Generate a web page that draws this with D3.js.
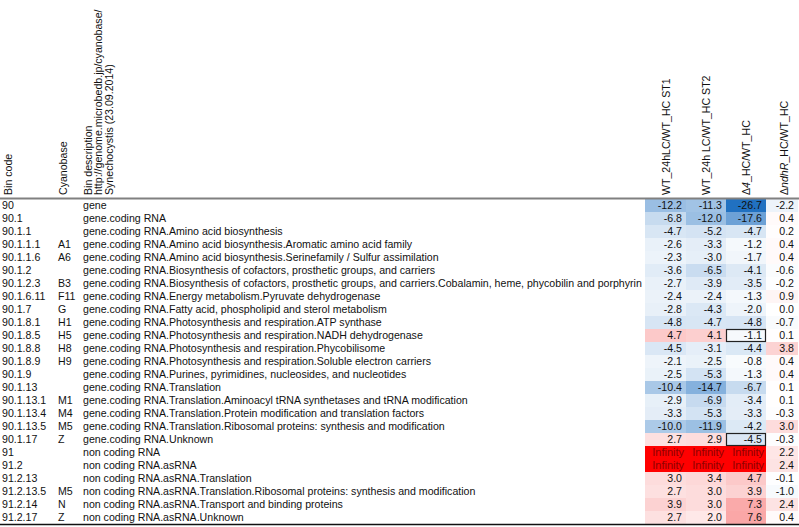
<!DOCTYPE html>
<html><head><meta charset="utf-8">
<script src="https://cdn.jsdelivr.net/npm/d3@7"></script>
<style>body{margin:0;background:#fff}svg{display:block}text{font-family:"Liberation Sans",Arial,sans-serif;font-size:10.6px}</style>
</head><body>
<svg id="c" width="799" height="527"></svg>
<script>
const binCodes = ["90","90.1","90.1.1","90.1.1.1","90.1.1.6","90.1.2","90.1.2.3","90.1.6.11","90.1.7","90.1.8.1","90.1.8.5","90.1.8.8","90.1.8.9","90.1.9","90.1.13","90.1.13.1","90.1.13.4","90.1.13.5","90.1.17","91","91.2","91.2.13","91.2.13.5","91.2.14","91.2.17"];
const cyanobase = ["","","","A1","A6","","B3","F11","G","H1","H5","H8","H9","","","M1","M4","M5","Z","","","","M5","N","Z"];
const descriptions = [
"gene","gene.coding RNA","gene.coding RNA.Amino acid biosynthesis",
"gene.coding RNA.Amino acid biosynthesis.Aromatic amino acid family",
"gene.coding RNA.Amino acid biosynthesis.Serinefamily / Sulfur assimilation",
"gene.coding RNA.Biosynthesis of cofactors, prosthetic groups, and carriers",
"gene.coding RNA.Biosynthesis of cofactors, prosthetic groups, and carriers.Cobalamin, heme, phycobilin and porphyrin",
"gene.coding RNA.Energy metabolism.Pyruvate dehydrogenase",
"gene.coding RNA.Fatty acid, phospholipid and sterol metabolism",
"gene.coding RNA.Photosynthesis and respiration.ATP synthase",
"gene.coding RNA.Photosynthesis and respiration.NADH dehydrogenase",
"gene.coding RNA.Photosynthesis and respiration.Phycobilisome",
"gene.coding RNA.Photosynthesis and respiration.Soluble electron carriers",
"gene.coding RNA.Purines, pyrimidines, nucleosides, and nucleotides",
"gene.coding RNA.Translation",
"gene.coding RNA.Translation.Aminoacyl tRNA synthetases and tRNA modification",
"gene.coding RNA.Translation.Protein modification and translation factors",
"gene.coding RNA.Translation.Ribosomal proteins: synthesis and modification",
"gene.coding RNA.Unknown","non coding RNA","non coding RNA.asRNA",
"non coding RNA.asRNA.Translation",
"non coding RNA.asRNA.Translation.Ribosomal proteins: synthesis and modification",
"non coding RNA.asRNA.Transport and binding proteins",
"non coding RNA.asRNA.Unknown"];
const wtST1 = [-12.2,-6.8,-4.7,-2.6,-2.3,-3.6,-2.7,-2.4,-2.8,-4.8,4.7,-4.5,-2.1,-2.5,-10.4,-2.9,-3.3,-10.0,2.7,Infinity,Infinity,3.0,2.7,3.9,2.7];
const wtST2 = [-11.3,-12.0,-5.2,-3.3,-3.0,-6.5,-3.9,-2.4,-4.3,-4.7,4.1,-3.1,-2.5,-5.3,-14.7,-6.9,-5.3,-11.9,2.9,Infinity,Infinity,3.4,3.0,3.0,2.0];
const delta4 = [-26.7,-17.6,-4.7,-1.2,-1.7,-4.1,-3.5,-1.3,-2.0,-4.8,-1.1,-4.4,-0.8,-1.3,-6.7,-3.4,-3.3,-4.2,-4.5,Infinity,Infinity,4.7,3.9,7.3,7.6];
const deltaNdhR = [-2.2,0.4,0.2,0.4,0.4,-0.6,-0.2,0.9,0.0,-0.7,0.1,3.8,0.4,0.4,0.1,0.1,-0.3,3.0,-0.3,2.2,2.4,-0.1,-1.0,2.4,0.4];
const boxedCells = [[10,2],[18,2]]; // [row, column]
const valueColumns = ["st1","st2","d4","ndhR"];

const svg = d3.select("#c");
const rowH = 13, top0 = 199;
const y = d3.scaleBand().domain(d3.range(binCodes.length)).range([top0, top0 + rowH*binCodes.length]);
const x = d3.scaleOrdinal().domain(valueColumns).range([645,686,726,766]);
const colW = {st1:41, st2:40, d4:40, ndhR:32};
const neg = d3.scaleLinear().domain([-27,0]).range(["#1f6fc0","#ffffff"]).clamp(true);
const pos = d3.scaleLinear().domain([0,22]).range(["#ffffff","#f00000"]).clamp(true);
const fill = v => v===Infinity ? "#ff0000" : (v<0 ? neg(v) : pos(v));
const fmt = v => v===Infinity ? "Infinity" : v.toFixed(1);

const series = {st1:wtST1, st2:wtST2, d4:delta4, ndhR:deltaNdhR};

// headers
const hdrBase = 195;
function vtext(cx){
  return svg.append("text").attr("transform",`translate(${cx},${hdrBase}) rotate(-90)`)
    .attr("dy","0.35em").attr("fill","#111");
}
vtext(8).text("Bin code");
vtext(63).text("Cyanobase");
vtext(88).text("Bin description");
vtext(98.5).text("http://genome.microbedb.jp/cyanobase/");
vtext(109).text("Synechocystis (23.09.2014)");
vtext(666).text("WT_24hLC/WT_HC ST1");
vtext(706).text("WT_24h LC/WT_HC ST2");
const t3 = vtext(746);
t3.append("tspan").text("Δ");
t3.append("tspan").attr("font-style","italic").text("4");
t3.append("tspan").text("_HC/WT_HC");
const t4 = vtext(784);
t4.append("tspan").text("Δ");
t4.append("tspan").attr("font-style","italic").text("ndhR");
t4.append("tspan").text("_HC/WT_HC");

// cells
valueColumns.forEach((c) => {
  const g = svg.append("g");
  series[c].forEach((v,i) => {
    g.append("rect").attr("x",x(c)).attr("y",y(i)).attr("width",colW[c]).attr("height",y.bandwidth())
      .attr("fill",fill(v));
    g.append("text").attr("x",x(c)+colW[c]-(v===Infinity?2:4)).attr("y",y(i)+y.bandwidth()/2).attr("dy","0.36em")
      .attr("text-anchor","end")
      .attr("fill", v===Infinity ? "#8e0000" : "#111")
      .style("font-size", v===Infinity ? "11px" : null)
      .text(fmt(v));
  });
});
boxedCells.forEach(([r,ci]) => {
  const c = valueColumns[ci];
  svg.append("rect").attr("x",x(c)+0.5).attr("y",y(r)+0.5).attr("width",colW[c]-1).attr("height",y.bandwidth()-1)
    .attr("fill","none").attr("stroke","#222").attr("stroke-width",1.2);
});

// row labels
binCodes.forEach((b,i) => {
  const cy = y(i)+y.bandwidth()/2;
  svg.append("text").attr("x",2).attr("y",cy).attr("dy","0.36em").attr("fill","#111").text(b);
  svg.append("text").attr("x",58).attr("y",cy).attr("dy","0.36em").attr("fill","#111").text(cyanobase[i]);
  svg.append("text").attr("x",83).attr("y",cy).attr("dy","0.36em").attr("fill","#111").text(descriptions[i]);
});

// rules
svg.append("line").attr("x1",0).attr("x2",799).attr("y1",top0-0.5).attr("y2",top0-0.5).attr("stroke","#808080").attr("stroke-width",2);
const bot = top0 + rowH*binCodes.length;
svg.append("line").attr("x1",0).attr("x2",799).attr("y1",bot+0.5).attr("y2",bot+0.5).attr("stroke","#111").attr("stroke-width",1.5);
</script>
</body></html>
